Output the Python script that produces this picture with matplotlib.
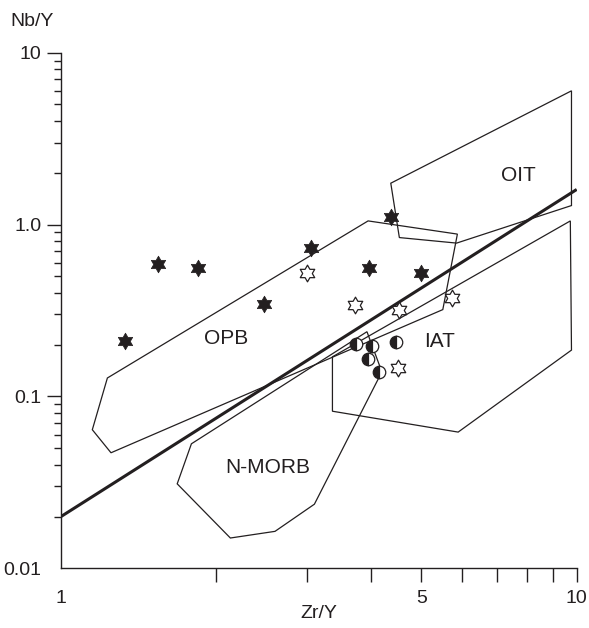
import numpy as np
import matplotlib
matplotlib.use("Agg")
import matplotlib.pyplot as plt
from matplotlib.path import Path

plt.rcParams['font.family'] = ['Liberation Sans', 'DejaVu Sans']

# ---- tectonic field outlines (Zr/Y, Nb/Y) ----
oit_zr = [4.36, 9.77, 9.77, 5.85, 4.53]
oit_nb = [1.74, 6.0, 1.29, 0.78, 0.84]

opb_zr = [1.23, 3.94, 5.87, 5.50, 1.25, 1.15]
opb_nb = [0.128, 1.05, 0.88, 0.32, 0.047, 0.064]

iat_zr = [3.36, 9.72, 9.77, 5.89, 3.36]
iat_nb = [0.17, 1.05, 0.186, 0.062, 0.082]

nmorb_zr = [1.79, 1.68, 2.13, 2.60, 3.10, 4.19, 3.92]
nmorb_nb = [0.053, 0.031, 0.015, 0.0164, 0.0236, 0.139, 0.238]

# dividing line
line_zr = [1, 10]
line_nb = [0.02, 1.6]

# ---- samples ----
filled_zr = [1.33, 1.54, 1.84, 2.47, 3.05, 3.96, 4.36, 4.98]
filled_nb = [0.21, 0.59, 0.56, 0.344, 0.73, 0.56, 1.11, 0.523]

open_zr = [3.00, 3.71, 4.53, 5.72, 4.51]
open_nb = [0.525, 0.342, 0.318, 0.374, 0.146]

half_zr = [3.74, 4.01, 4.46, 3.93, 4.14]
half_nb = [0.203, 0.197, 0.208, 0.166, 0.138]

field_labels = ["OIT", "OPB", "IAT", "N-MORB"]
label_zr = [7.72, 2.09, 5.43, 2.52]
label_nb = [1.94, 0.216, 0.21, 0.0384]

ink = '#231f20'

# six-pointed star (hexagram) marker
ang = np.pi / 2 + np.arange(12) * np.pi / 6
rad = np.where(np.arange(12) % 2 == 0, 1.0, 1 / np.sqrt(3))
verts = np.column_stack([rad * np.cos(ang), rad * np.sin(ang)])
verts = np.vstack([verts, verts[0]])
codes = [Path.MOVETO] + [Path.LINETO] * 11 + [Path.CLOSEPOLY]
hexstar = Path(verts, codes)

fig = plt.figure(figsize=(5.89, 6.28), dpi=100)
ax = fig.add_axes([0.1036, 0.0951, 0.9791 - 0.1036, 0.9161 - 0.0951])
ax.set_xscale('log')
ax.set_yscale('log')
ax.set_xlim(1, 10)
ax.set_ylim(0.01, 10)

for zr, nb in [(oit_zr, oit_nb), (opb_zr, opb_nb), (iat_zr, iat_nb), (nmorb_zr, nmorb_nb)]:
    ax.fill(zr, nb, facecolor='none', edgecolor=ink, linewidth=0.9)

ax.plot(line_zr, line_nb, color=ink, linewidth=2.2, solid_capstyle='butt')

ax.plot(filled_zr, filled_nb, linestyle='none', marker=hexstar, markersize=12,
        markerfacecolor=ink, markeredgecolor=ink, markeredgewidth=0.5)
ax.plot(open_zr, open_nb, linestyle='none', marker=hexstar, markersize=12,
        markerfacecolor='white', markeredgecolor=ink, markeredgewidth=0.9)
ax.plot(half_zr, half_nb, linestyle='none', marker='o', markersize=9,
        fillstyle='left', markerfacecolor=ink, markerfacecoloralt='white',
        markeredgecolor=ink, markeredgewidth=0.9)

for t, zx, ny in zip(field_labels, label_zr, label_nb):
    ax.text(zx, ny, t, ha='center', va='center', fontsize=15, color=ink)

# axes styling
for s in ['top', 'right']:
    ax.spines[s].set_visible(False)
for s in ['left', 'bottom']:
    ax.spines[s].set_color(ink)
    ax.spines[s].set_linewidth(1.0)

ax.xaxis.set_major_locator(matplotlib.ticker.FixedLocator(range(1, 11)))
ax.xaxis.set_minor_locator(matplotlib.ticker.NullLocator())
ax.set_xticklabels(['1', '', '', '', '5', '', '', '', '', '10'])
ax.tick_params(axis='x', direction='out', length=10, width=1.0, color=ink,
               labelsize=14, labelcolor=ink, pad=6)
ax.xaxis.get_major_ticks()[0].tick1line.set_visible(False)

ax.yaxis.set_major_locator(matplotlib.ticker.FixedLocator([0.01, 0.1, 1, 10]))
ax.set_yticklabels(['0.01', '0.1', '1.0', '10'])
ax.yaxis.set_minor_locator(matplotlib.ticker.LogLocator(base=10, subs=np.arange(2, 10)))
ax.yaxis.set_minor_formatter(matplotlib.ticker.NullFormatter())
ax.tick_params(axis='y', which='major', direction='out', length=10, width=1.0,
               color=ink, labelsize=14, labelcolor=ink, pad=4)
ax.tick_params(axis='y', which='minor', direction='out', length=5, width=1.0, color=ink)
ax.yaxis.get_major_ticks()[0].tick1line.set_visible(False)

fig.text(32 / 589, 1 - 22 / 628, 'Nb/Y', ha='center', va='center', fontsize=14, color=ink)
fig.text(319 / 589, 1 - 613 / 628, 'Zr/Y', ha='center', va='center', fontsize=14, color=ink)

fig.savefig('out.png', dpi=100)
